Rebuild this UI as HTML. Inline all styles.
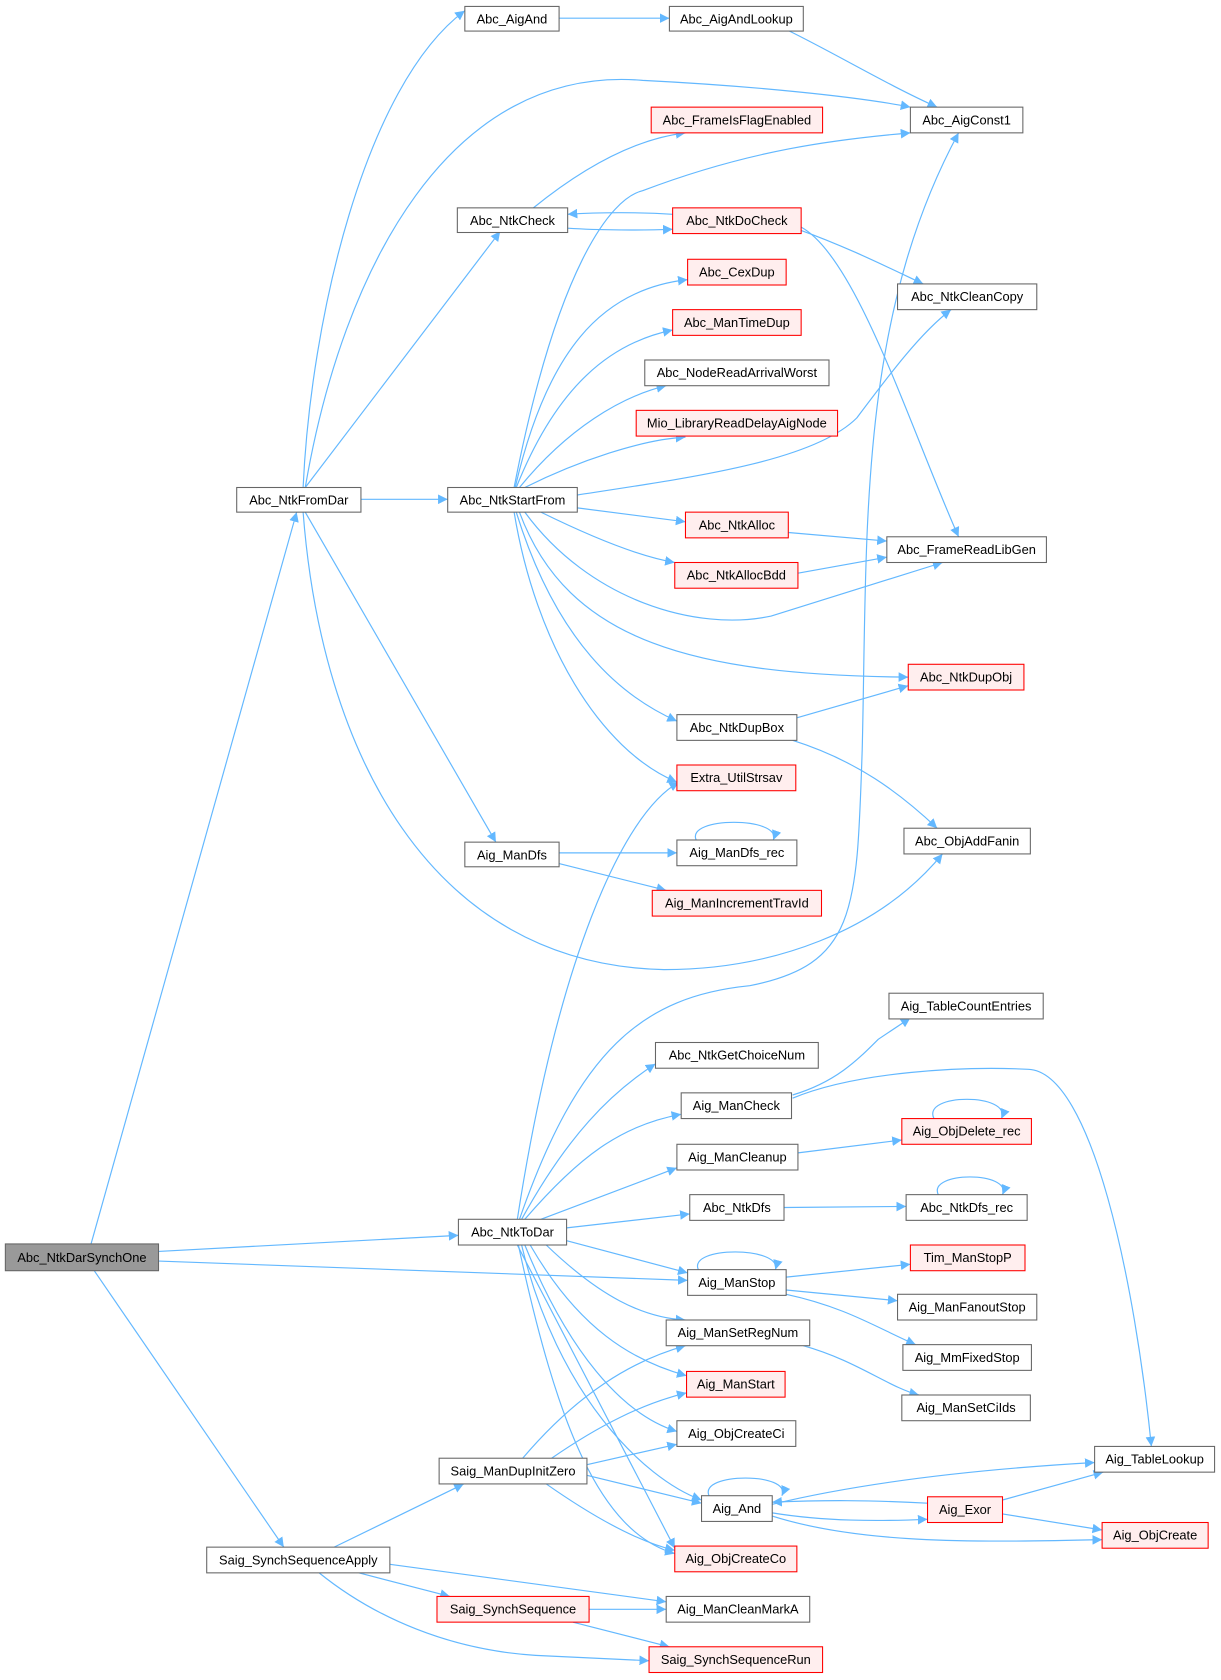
<!DOCTYPE html>
<html><head><meta charset="utf-8"><style>
html,body{margin:0;padding:0;background:#fff;}
svg{display:block;}
text{font-family:"Liberation Sans",Arial,sans-serif;font-size:12px;fill:#000;}
.e{fill:none;stroke:#63b8ff;stroke-width:1.1;}
</style></head><body>
<svg width="1221" height="1680" viewBox="0 0 1140 1568" preserveAspectRatio="none" xmlns="http://www.w3.org/2000/svg">
<defs><marker id="a" viewBox="0 0 10 10" refX="10" refY="5" markerWidth="9" markerHeight="9" markerUnits="userSpaceOnUse" orient="auto"><path d="M0,0 L10,5 L0,10 z" fill="#63b8ff"/></marker></defs>
<g class="e" marker-end="url(#a)">
<path d="M85,1161 L277,478"/>
<path d="M148,1168 L428,1153"/>
<path d="M148,1177 L642,1195"/>
<path d="M88,1186 L265,1444"/>
<path d="M283,455 C290,300 340,80 434,10"/>
<path d="M285,455 C320,250 420,60 600,75 C700,80 800,90 850,100"/>
<path d="M285,455 L467,216"/>
<path d="M337,466 L418,466"/>
<path d="M285,478 L463,786"/>
<path d="M283,478 C300,700 400,900 620,905 C720,905 820,870 880,797"/>
<path d="M522,17 L625,17"/>
<path d="M735,28 C780,50 830,80 875,100"/>
<path d="M498,194 C540,160 590,130 640,124"/>
<path d="M530,213 C560,215 600,215 628,214"/>
<path d="M628,200 C600,198 560,198 530,200"/>
<path d="M745,214 C790,230 830,250 862,265"/>
<path d="M748,212 C800,240 850,400 895,501"/>
<path d="M480,455 C520,250 570,185 600,178 C700,140 780,130 850,124"/>
<path d="M481,455 C510,330 560,270 642,261"/>
<path d="M482,455 C520,360 570,320 628,308"/>
<path d="M485,455 C530,400 580,370 622,360"/>
<path d="M490,455 C540,430 600,410 640,408"/>
<path d="M539,462 C650,445 760,430 800,390 C830,350 860,310 888,289"/>
<path d="M539,474 L640,487"/>
<path d="M505,478 C560,505 600,520 630,525"/>
<path d="M490,478 C550,560 650,590 720,575 L880,525"/>
<path d="M485,478 C530,600 650,630 848,632"/>
<path d="M482,478 C520,600 580,650 632,673"/>
<path d="M480,478 C500,600 560,700 632,730"/>
<path d="M736,497 L828,505"/>
<path d="M745,535 L828,520"/>
<path d="M744,670 L848,640"/>
<path d="M740,691 C800,710 840,740 875,773"/>
<path d="M522,796 L632,796"/>
<path d="M522,806 L622,831"/>
<path d="M650,784 C640,762 730,762 722,784"/>
<path d="M483,1138 C520,900 580,760 634,730"/>
<path d="M485,1138 C540,980 600,930 700,920 C800,900 800,850 805,700 C810,500 800,300 895,124"/>
<path d="M487,1138 C530,1060 570,1020 612,993"/>
<path d="M490,1138 C540,1080 580,1050 636,1040"/>
<path d="M505,1138 L632,1090"/>
<path d="M529,1146 L644,1133"/>
<path d="M529,1158 L642,1188"/>
<path d="M510,1162 C560,1210 600,1230 640,1232"/>
<path d="M495,1162 C540,1240 590,1270 641,1284"/>
<path d="M490,1162 C530,1260 580,1320 632,1336"/>
<path d="M487,1162 C520,1300 600,1380 655,1400"/>
<path d="M484,1162 C520,1330 560,1430 630,1450"/>
<path d="M483,1162 L630,1445"/>
<path d="M740,1022 C780,1010 800,990 820,970 L850,950"/>
<path d="M740,1025 C800,1000 900,995 960,998 C1020,1000 1060,1200 1075,1350"/>
<path d="M745,1076 L842,1064"/>
<path d="M872,1044 C860,1020 945,1020 935,1044"/>
<path d="M732,1127 L846,1126"/>
<path d="M876,1115 C866,1093 945,1093 936,1115"/>
<path d="M652,1185 C642,1163 730,1163 724,1185"/>
<path d="M734,1192 L850,1180"/>
<path d="M734,1204 L838,1214"/>
<path d="M734,1208 C790,1220 820,1240 855,1255"/>
<path d="M750,1256 C800,1270 830,1295 858,1302"/>
<path d="M488,1361 C540,1300 590,1270 640,1256"/>
<path d="M515,1361 C560,1330 600,1310 641,1300"/>
<path d="M548,1367 L632,1348"/>
<path d="M548,1377 L655,1403"/>
<path d="M510,1385 C560,1420 600,1440 630,1447"/>
<path d="M662,1396 C652,1374 740,1374 730,1396"/>
<path d="M721,1412 C770,1420 820,1420 866,1418"/>
<path d="M866,1403 C810,1400 770,1400 721,1402"/>
<path d="M721,1404 C800,1385 900,1372 1022,1365"/>
<path d="M721,1415 C800,1440 900,1440 1029,1437"/>
<path d="M936,1400 L1030,1374"/>
<path d="M936,1413 L1029,1428"/>
<path d="M312,1444 L433,1385"/>
<path d="M364,1460 L622,1495"/>
<path d="M335,1468 L420,1490"/>
<path d="M298,1468 C350,1510 420,1540 500,1545 L606,1550"/>
<path d="M550,1502 L622,1502"/>
<path d="M535,1514 L625,1537"/>
</g>
<g stroke-width="1">
<rect x="5" y="1161" width="143" height="25" fill="#999" stroke="#666"/><text x="76.5" y="1178" text-anchor="middle">Abc_NtkDarSynchOne</text>
</g>
<g text-anchor="middle">
<g fill="#fff" stroke="#666">
<rect x="221" y="455" width="116" height="23"/>
<rect x="434" y="6" width="88" height="23"/>
<rect x="625" y="6" width="125" height="23"/>
<rect x="850" y="100" width="105" height="24"/>
<rect x="427" y="194" width="103" height="23"/>
<rect x="838" y="265" width="130" height="24"/>
<rect x="602" y="336" width="172" height="24"/>
<rect x="418" y="455" width="121" height="23"/>
<rect x="828" y="501" width="149" height="24"/>
<rect x="632" y="667" width="112" height="24"/>
<rect x="844" y="773" width="118" height="24"/>
<rect x="434" y="786" width="88" height="23"/>
<rect x="632" y="784" width="112" height="24"/>
<rect x="830" y="927" width="144" height="24"/>
<rect x="612" y="973" width="152" height="24"/>
<rect x="636" y="1020" width="103" height="24"/>
<rect x="632" y="1068" width="113" height="24"/>
<rect x="644" y="1115" width="88" height="24"/>
<rect x="846" y="1115" width="113" height="24"/>
<rect x="428" y="1138" width="101" height="24"/>
<rect x="642" y="1185" width="92" height="24"/>
<rect x="838" y="1208" width="130" height="24"/>
<rect x="622" y="1232" width="134" height="24"/>
<rect x="843" y="1255" width="120" height="24"/>
<rect x="842" y="1302" width="120" height="24"/>
<rect x="632" y="1326" width="111" height="24"/>
<rect x="1022" y="1350" width="112" height="24"/>
<rect x="410" y="1361" width="138" height="24"/>
<rect x="655" y="1396" width="66" height="24"/>
<rect x="193" y="1444" width="171" height="24"/>
<rect x="622" y="1490" width="134" height="24"/>
</g>
<g fill="#fee" stroke="#f00">
<rect x="608" y="100" width="160" height="24"/>
<rect x="628" y="194" width="120" height="24"/>
<rect x="642" y="242" width="92" height="24"/>
<rect x="628" y="289" width="120" height="24"/>
<rect x="594" y="383" width="188" height="24"/>
<rect x="640" y="478" width="96" height="24"/>
<rect x="630" y="525" width="115" height="24"/>
<rect x="848" y="620" width="108" height="24"/>
<rect x="632" y="714" width="111" height="24"/>
<rect x="609" y="831" width="158" height="24"/>
<rect x="842" y="1044" width="121" height="24"/>
<rect x="850" y="1162" width="107" height="24"/>
<rect x="641" y="1280" width="92" height="24"/>
<rect x="866" y="1397" width="70" height="24"/>
<rect x="1029" y="1421" width="99" height="24"/>
<rect x="630" y="1443" width="114" height="24"/>
<rect x="408" y="1490" width="142" height="24"/>
<rect x="606" y="1537" width="162" height="24"/>
</g>
<text x="279" y="471">Abc_NtkFromDar</text>
<text x="478" y="22">Abc_AigAnd</text>
<text x="687.5" y="22">Abc_AigAndLookup</text>
<text x="902.5" y="116">Abc_AigConst1</text>
<text x="478.5" y="210">Abc_NtkCheck</text>
<text x="903" y="281">Abc_NtkCleanCopy</text>
<text x="688" y="352">Abc_NodeReadArrivalWorst</text>
<text x="478.5" y="471">Abc_NtkStartFrom</text>
<text x="902.5" y="517">Abc_FrameReadLibGen</text>
<text x="688" y="683">Abc_NtkDupBox</text>
<text x="903" y="789">Abc_ObjAddFanin</text>
<text x="478" y="802">Aig_ManDfs</text>
<text x="688" y="800">Aig_ManDfs_rec</text>
<text x="902" y="943">Aig_TableCountEntries</text>
<text x="688" y="989">Abc_NtkGetChoiceNum</text>
<text x="687.5" y="1036">Aig_ManCheck</text>
<text x="688.5" y="1084">Aig_ManCleanup</text>
<text x="688" y="1131">Abc_NtkDfs</text>
<text x="902.5" y="1131">Abc_NtkDfs_rec</text>
<text x="478.5" y="1154">Abc_NtkToDar</text>
<text x="688" y="1201">Aig_ManStop</text>
<text x="903" y="1224">Aig_ManFanoutStop</text>
<text x="689" y="1248">Aig_ManSetRegNum</text>
<text x="903" y="1271">Aig_MmFixedStop</text>
<text x="902" y="1318">Aig_ManSetCiIds</text>
<text x="687.5" y="1342">Aig_ObjCreateCi</text>
<text x="1078" y="1366">Aig_TableLookup</text>
<text x="479" y="1377">Saig_ManDupInitZero</text>
<text x="688" y="1412">Aig_And</text>
<text x="278.5" y="1460">Saig_SynchSequenceApply</text>
<text x="689" y="1506">Aig_ManCleanMarkA</text>
<text x="688" y="116">Abc_FrameIsFlagEnabled</text>
<text x="688" y="210">Abc_NtkDoCheck</text>
<text x="688" y="258">Abc_CexDup</text>
<text x="688" y="305">Abc_ManTimeDup</text>
<text x="688" y="399">Mio_LibraryReadDelayAigNode</text>
<text x="688" y="494">Abc_NtkAlloc</text>
<text x="687.5" y="541">Abc_NtkAllocBdd</text>
<text x="902" y="636">Abc_NtkDupObj</text>
<text x="687.5" y="730">Extra_UtilStrsav</text>
<text x="688" y="847">Aig_ManIncrementTravId</text>
<text x="902.5" y="1060">Aig_ObjDelete_rec</text>
<text x="903.5" y="1178">Tim_ManStopP</text>
<text x="687" y="1296">Aig_ManStart</text>
<text x="901" y="1413">Aig_Exor</text>
<text x="1078.5" y="1437">Aig_ObjCreate</text>
<text x="687" y="1459">Aig_ObjCreateCo</text>
<text x="479" y="1506">Saig_SynchSequence</text>
<text x="687" y="1553">Saig_SynchSequenceRun</text>
</g>
</svg>
</body></html>
